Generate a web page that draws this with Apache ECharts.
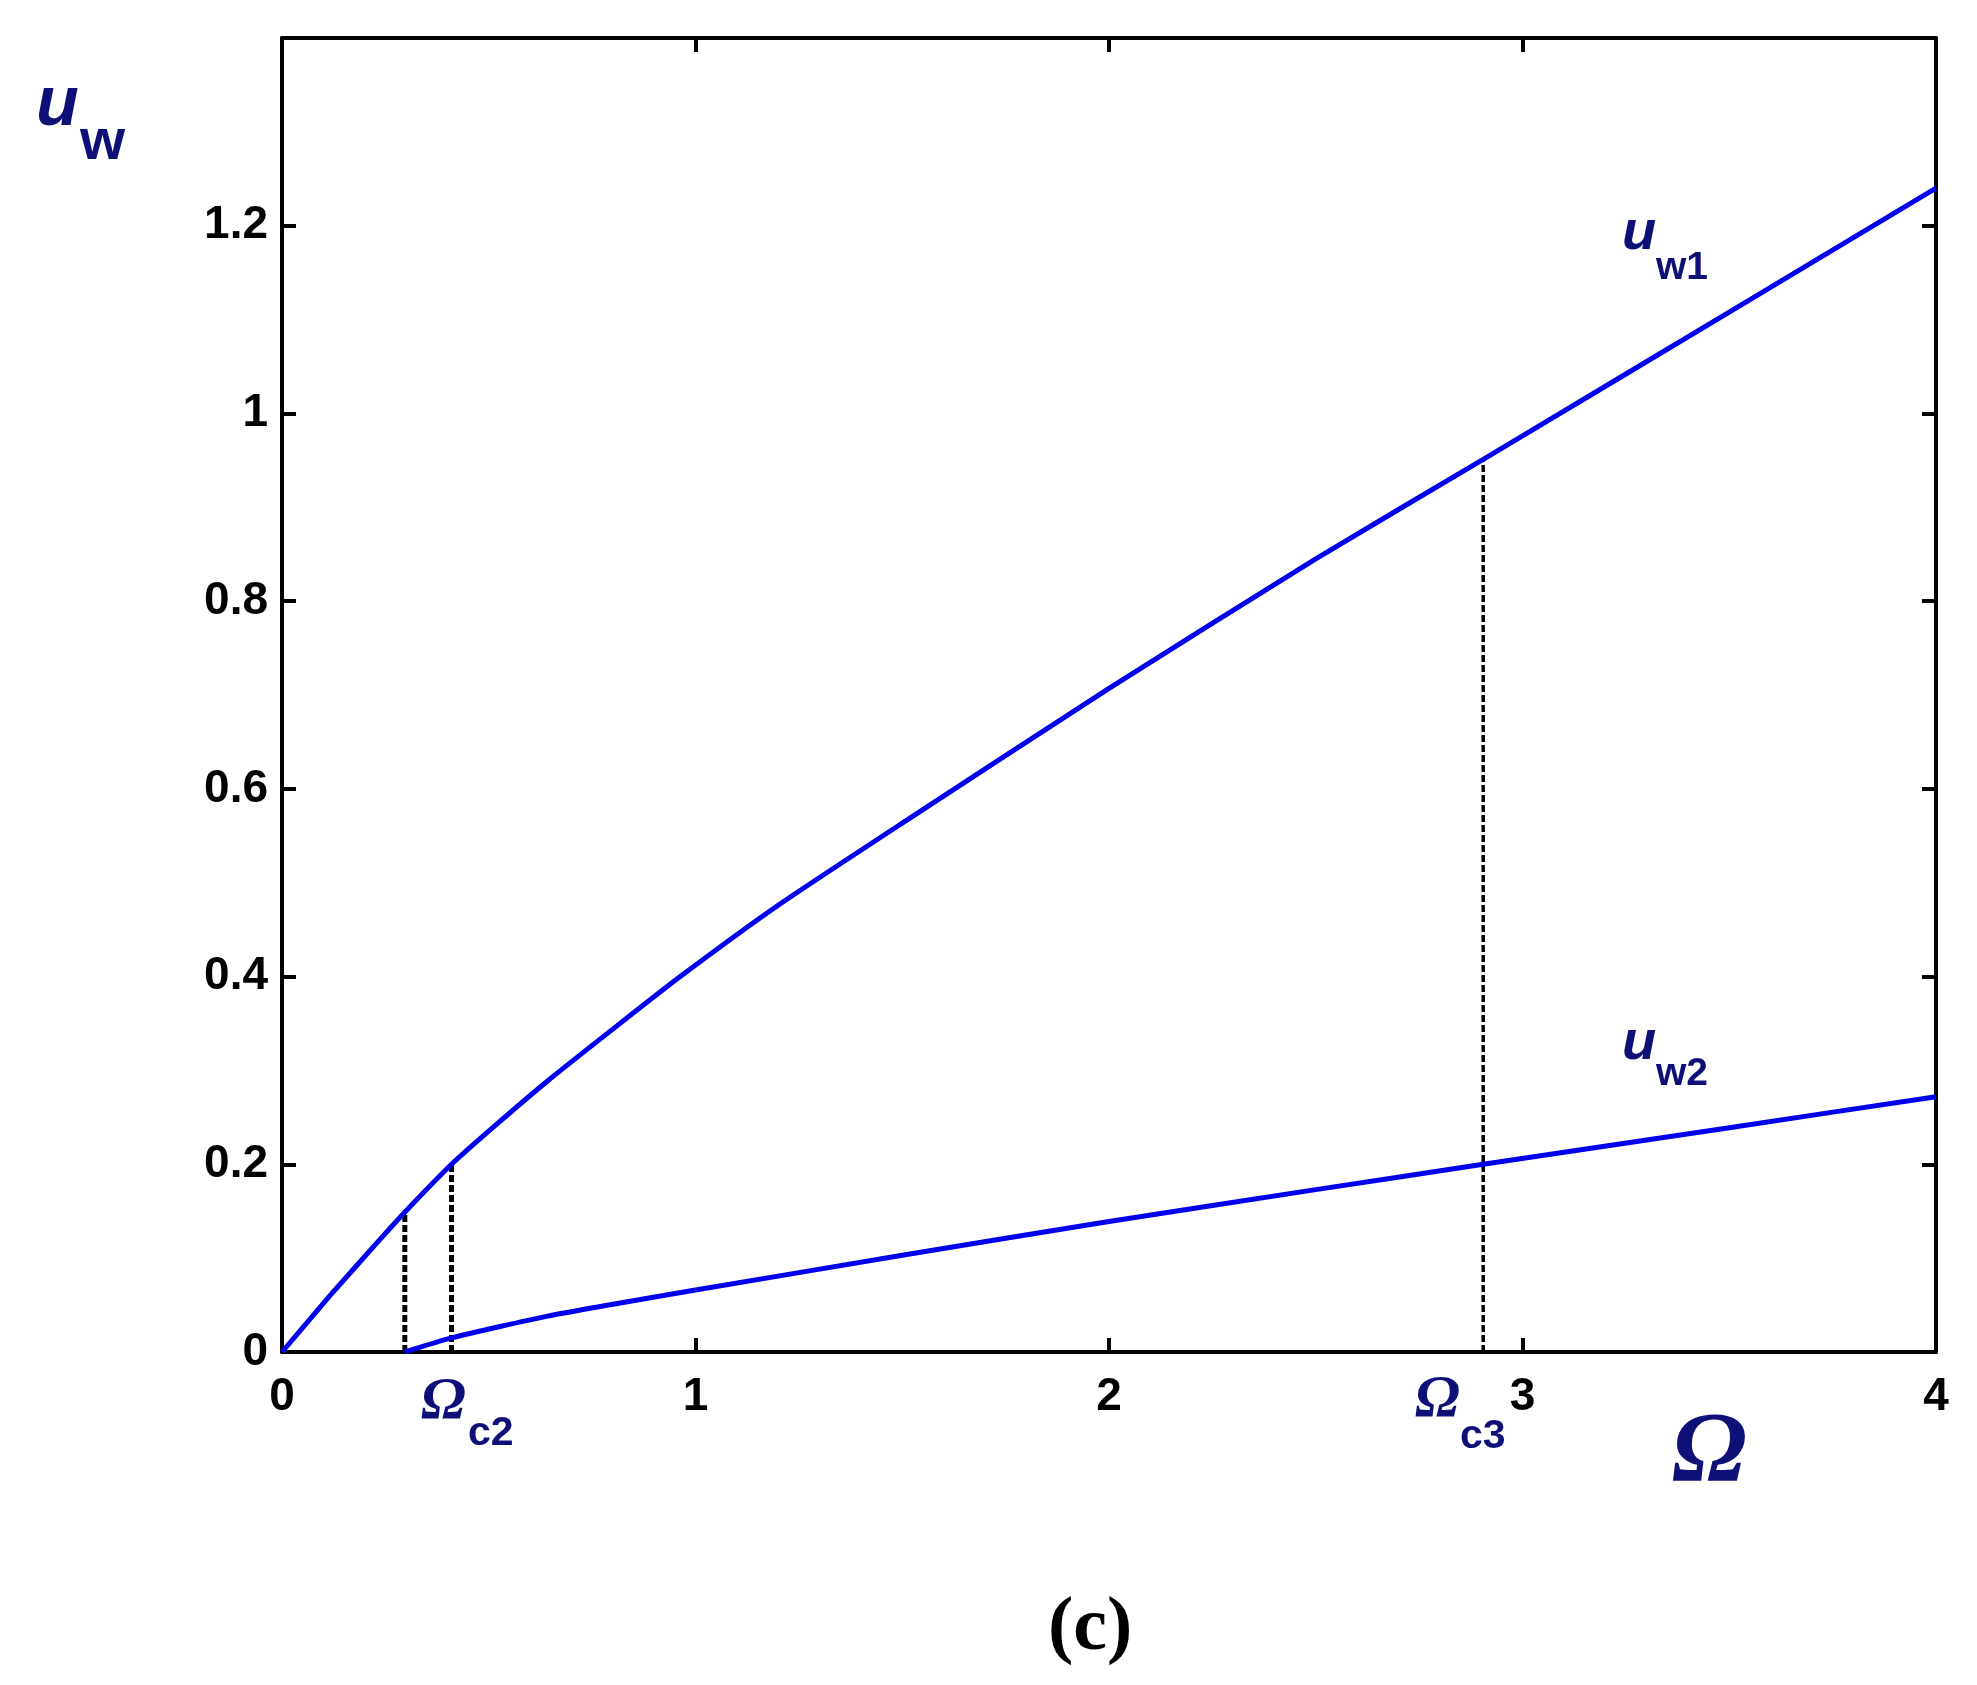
<!DOCTYPE html>
<html>
<head>
<meta charset="utf-8">
<script src="https://cdn.jsdelivr.net/npm/echarts@6/dist/echarts.min.js"></script>
<style>
html,body{margin:0;padding:0;background:#fff;}
#chart{width:1977px;height:1685px;}
</style>
</head>
<body>
<div id="chart"></div>
<script>
// ---- data ----
const omegaW1 = [0, 0.116, 0.237, 0.297, 0.41, 0.52, 0.64, 0.80, 0.963, 1.2, 1.5, 2.0, 2.5, 2.905, 3.0, 3.5, 4.0];
const uW1     = [0, 0.060, 0.120, 0.149, 0.200, 0.243, 0.288, 0.344, 0.400, 0.476, 0.5635, 0.707, 0.845, 0.951, 0.976, 1.108, 1.240];
const omegaW2 = [0.297, 0.41, 0.64, 1.0, 1.5, 2.0, 2.5, 2.905, 3.5, 4.0];
const uW2     = [0, 0.015, 0.038, 0.066, 0.103, 0.139, 0.173, 0.200, 0.239, 0.272];
const omegaCrit = [0.297, 0.41, 2.905];
const uCrit     = [0.149, 0.200, 0.951];
const xTicks = [0, 1, 2, 3, 4];
const yTicks = [0, 0.2, 0.4, 0.6, 0.8, 1, 1.2, 1.4];

const pairs = (xs, ys) => xs.map((x, i) => [x, ys[i]]);
const NAVY = '#0f0f78';
const BLUE = '#0000ee';

const chart = echarts.init(document.getElementById('chart'), null, {renderer: 'canvas'});

const axisCommon = {
  type: 'value',
  axisLine: {show: true, onZero: false, lineStyle: {color: '#000', width: 4}},
  axisTick: {show: true, inside: true, length: 14, lineStyle: {color: '#000', width: 4}},
  splitLine: {show: false}
};

const critSeries = omegaCrit.map((x, i) => ({
  type: 'line',
  data: [[x, 0], [x, uCrit[i]]],
  showSymbol: false,
  symbol: 'none',
  silent: true,
  z: 1,
  lineStyle: {color: '#000', width: i < 2 ? 5 : 3.5, type: [7, 3]}
}));

chart.setOption({
  animation: false,
  backgroundColor: '#fff',
  grid: {left: 282, top: 38, width: 1654, height: 1314, containLabel: false},
  xAxis: [
    Object.assign({}, axisCommon, {
      min: 0, max: 4, interval: 1, position: 'bottom',
      axisLabel: {show: true, margin: 22, color: '#000', fontSize: 46, fontWeight: 'bold',
        fontFamily: 'Liberation Sans, Arial, sans-serif'}
    }),
    Object.assign({}, axisCommon, {
      min: 0, max: 4, interval: 1, position: 'top', axisLabel: {show: false}
    })
  ],
  yAxis: [
    Object.assign({}, axisCommon, {
      min: 0, max: 1.4, interval: 0.2, position: 'left',
      axisLabel: {show: true, margin: 14, color: '#000', fontSize: 46, fontWeight: 'bold',
        fontFamily: 'Liberation Sans, Arial, sans-serif',
        formatter: v => (Math.abs(v - 1.4) < 1e-9 ? '' : String(+v.toFixed(1)))}
    }),
    Object.assign({}, axisCommon, {
      min: 0, max: 1.4, interval: 0.2, position: 'right', axisLabel: {show: false}
    })
  ],
  series: critSeries.concat([
    {
      name: 'u_w1', type: 'line', data: pairs(omegaW1, uW1),
      smooth: 0.2, symbol: 'none', z: 3,
      lineStyle: {color: BLUE, width: 5}
    },
    {
      name: 'u_w2', type: 'line', data: pairs(omegaW2, uW2),
      smooth: 0.2, symbol: 'none', z: 3,
      lineStyle: {color: BLUE, width: 5}
    }
  ]),
  graphic: [
    // y-axis title u_w
    {type: 'text', left: 36, top: 71, style: {text: 'u', fill: NAVY, font: 'italic bold 70px "Liberation Sans", Arial, sans-serif'}},
    {type: 'text', left: 80, top: 114, style: {text: 'w', fill: NAVY, font: 'bold 58px "Liberation Sans", Arial, sans-serif'}},
    // u_w1
    {type: 'text', left: 1622, top: 206, style: {text: 'u', fill: NAVY, font: 'italic bold 56px "Liberation Sans", Arial, sans-serif'}},
    {type: 'text', left: 1656, top: 249, style: {text: 'w1', fill: NAVY, font: 'bold 39px "Liberation Sans", Arial, sans-serif'}},
    // u_w2
    {type: 'text', left: 1622, top: 1016, style: {text: 'u', fill: NAVY, font: 'italic bold 56px "Liberation Sans", Arial, sans-serif'}},
    {type: 'text', left: 1656, top: 1055, style: {text: 'w2', fill: NAVY, font: 'bold 39px "Liberation Sans", Arial, sans-serif'}},
    // Omega_c2
    {type: 'text', left: 421, top: 1372, style: {text: 'Ω', fill: NAVY, font: 'italic bold 60px "Liberation Serif", "Times New Roman", serif'}},
    {type: 'text', left: 468, top: 1413, style: {text: 'c2', fill: NAVY, font: 'bold 41px "Liberation Sans", Arial, sans-serif'}},
    // Omega_c3
    {type: 'text', left: 1415, top: 1370, style: {text: 'Ω', fill: NAVY, font: 'italic bold 60px "Liberation Serif", "Times New Roman", serif'}},
    {type: 'text', left: 1460, top: 1416, style: {text: 'c3', fill: NAVY, font: 'bold 41px "Liberation Sans", Arial, sans-serif'}},
    // x-axis title Omega
    {type: 'text', left: 1672, top: 1404, style: {text: 'Ω', fill: NAVY, font: 'italic bold 100px "Liberation Serif", "Times New Roman", serif'}},
    // panel label
    {type: 'text', left: 1048, top: 1591, style: {text: '(c)', fill: '#000', font: 'bold 76px "Liberation Serif", "Times New Roman", serif'}}
  ]
});
</script>
</body>
</html>
